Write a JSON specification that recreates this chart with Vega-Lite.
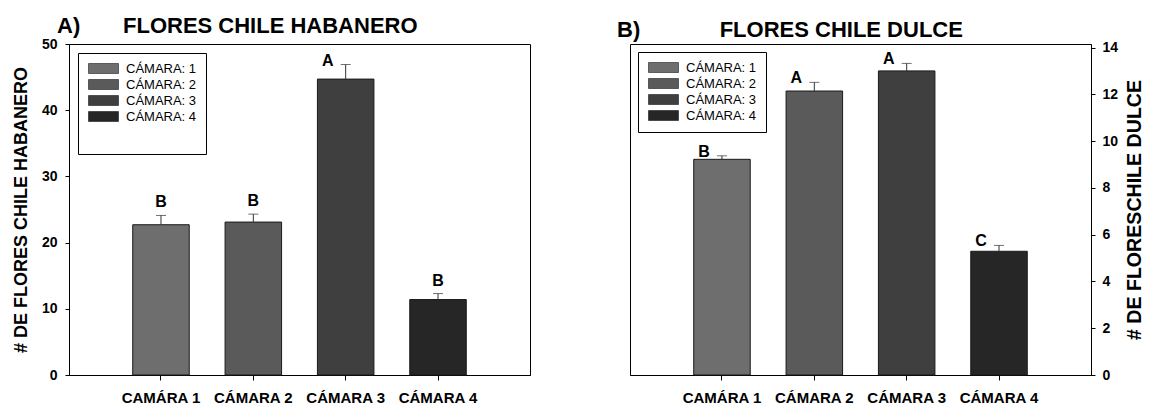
{
  "$schema": "https://vega.github.io/schema/vega-lite/v6.json",
  "background": "white",
  "padding": {"left": 11, "top": 14, "right": 0, "bottom": 0},
  "config": {
    "font": "Liberation Sans",
    "view": {"stroke": "black", "strokeWidth": 1},
    "axis": {"domainColor": "black", "tickColor": "black", "labelColor": "black", "titleColor": "black", "labelFont": "Liberation Sans", "titleFont": "Liberation Sans", "labelFontWeight": "bold", "titleFontWeight": "bold", "grid": false},
    "legend": {"orient": "top-left", "strokeColor": "black", "fillColor": "white", "padding": 9, "labelFontSize": 13, "labelFont": "Liberation Sans", "labelFontWeight": "normal", "labelColor": "black", "symbolType": "M-3,-1H3V1H-3Z", "symbolSize": 100, "symbolStrokeColor": "black", "symbolStrokeWidth": 0.5, "symbolOffset": 10, "labelOffset": 16, "rowPadding": 2},
    "title": {"font": "Liberation Sans", "fontSize": 22, "fontWeight": "bold", "anchor": "start", "color": "black", "offset": -1, "baseline": "alphabetic", "frame": "group"}
  },
  "datasets": {
    "hab": [
      {"cam": "CAMÁRA 1", "leg": "CÁMARA: 1", "value": 22.7, "hi": 24.1, "letter": "B"},
      {"cam": "CÁMARA 2", "leg": "CÁMARA: 2", "value": 23.1, "hi": 24.3, "letter": "B"},
      {"cam": "CÁMARA 3", "leg": "CÁMARA: 3", "value": 44.7, "hi": 46.9, "letter": "A"},
      {"cam": "CÁMARA 4", "leg": "CÁMARA: 4", "value": 11.4, "hi": 12.3, "letter": "B"}
    ],
    "dul": [
      {"cam": "CAMÁRA 1", "leg": "CÁMARA: 1", "value": 9.22, "hi": 9.37, "letter": "B"},
      {"cam": "CÁMARA 2", "leg": "CÁMARA: 2", "value": 12.14, "hi": 12.51, "letter": "A"},
      {"cam": "CÁMARA 3", "leg": "CÁMARA: 3", "value": 13.0, "hi": 13.32, "letter": "A"},
      {"cam": "CÁMARA 4", "leg": "CÁMARA: 4", "value": 5.29, "hi": 5.54, "letter": "C"}
    ]
  },
  "spacing": 85,
  "resolve": {"scale": {"fill": "independent", "y": "independent", "x": "independent"}, "legend": {"fill": "independent"}, "axis": {"y": "independent"}},
  "hconcat": [
    {
      "width": 461,
      "height": 331,
      "data": {"name": "hab"},
      "title": {"text": "A)\u00a0\u00a0\u00a0\u00a0\u00a0\u00a0\u00a0FLORES CHILE HABANERO", "dx": -12},
      "encoding": {
        "x": {"field": "cam", "type": "nominal", "sort": null, "scale": {"paddingInner": 0.388, "paddingOuter": 0.69}, "axis": {"title": null, "labelAngle": 0, "tickSize": 5, "labelPadding": 10, "labelFontSize": 15}}
      },
      "layer": [
        {
          "mark": {"type": "bar", "stroke": "#1a1a1a", "strokeWidth": 1},
          "encoding": {
            "y": {"field": "value", "type": "quantitative", "scale": {"domain": [0, 50], "nice": false}, "axis": {"title": "# DE FLORES CHILE HABANERO", "titleFontSize": 18, "labelFontSize": 14, "tickSize": 4, "labelPadding": 8, "titlePadding": 11, "values": [0, 10, 20, 30, 40, 50]}},
            "fill": {"field": "leg", "type": "nominal", "scale": {"domain": ["CÁMARA: 1", "CÁMARA: 2", "CÁMARA: 3", "CÁMARA: 4"], "range": ["#6e6e6e", "#5a5a5a", "#3f3f3f", "#262626"]}, "legend": {"title": " ", "titleOrient": "bottom", "titleFontSize": 13, "titlePadding": 8, "offset": 9}}
          }
        },
        {
          "mark": {"type": "rule", "color": "#333333", "strokeWidth": 1},
          "encoding": {"y": {"field": "value", "type": "quantitative"}, "y2": {"field": "hi"}}
        },
        {
          "mark": {"type": "tick", "color": "#333333", "size": 10, "thickness": 1, "orient": "horizontal"},
          "encoding": {"y": {"field": "hi", "type": "quantitative"}}
        },
        {
          "transform": [{"filter": "datum.cam != 'CÁMARA 3'"}],
          "mark": {"type": "text", "font": "Liberation Sans", "fontSize": 16, "fontWeight": "bold", "color": "black", "baseline": "alphabetic", "dy": -8},
          "encoding": {"y": {"field": "hi", "type": "quantitative"}, "text": {"field": "letter"}}
        },
        {
          "transform": [{"filter": "datum.cam == 'CÁMARA 3'"}],
          "mark": {"type": "text", "font": "Liberation Sans", "fontSize": 16, "fontWeight": "bold", "color": "black", "baseline": "alphabetic", "dx": -18, "dy": 1},
          "encoding": {"y": {"field": "hi", "type": "quantitative"}, "text": {"field": "letter"}}
        }
      ]
    },
    {
      "width": 461,
      "height": 331,
      "data": {"name": "dul"},
      "title": {"text": "B)\u00a0\u00a0\u00a0\u00a0\u00a0\u00a0\u00a0\u00a0\u00a0\u00a0\u00a0\u00a0\u00a0FLORES CHILE DULCE", "dx": -13},
      "encoding": {
        "x": {"field": "cam", "type": "nominal", "sort": null, "scale": {"paddingInner": 0.388, "paddingOuter": 0.69}, "axis": {"title": null, "labelAngle": 0, "tickSize": 5, "labelPadding": 10, "labelFontSize": 15}}
      },
      "layer": [
        {
          "mark": {"type": "bar", "stroke": "#1a1a1a", "strokeWidth": 1},
          "encoding": {
            "y": {"field": "value", "type": "quantitative", "scale": {"domain": [0, 14.15], "nice": false}, "axis": {"orient": "right", "title": "# DE FLORESCHILE DULCE", "titleAngle": 270, "titleBaseline": "top", "titleFontSize": 19.6, "labelFontSize": 14, "tickSize": 4, "labelPadding": 7, "titlePadding": 8, "values": [0, 2, 4, 6, 8, 10, 12, 14]}},
            "fill": {"field": "leg", "type": "nominal", "scale": {"domain": ["CÁMARA: 1", "CÁMARA: 2", "CÁMARA: 3", "CÁMARA: 4"], "range": ["#6e6e6e", "#5a5a5a", "#3f3f3f", "#262626"]}, "legend": {"title": null, "offset": 8}}
          }
        },
        {
          "mark": {"type": "rule", "color": "#333333", "strokeWidth": 1},
          "encoding": {"y": {"field": "value", "type": "quantitative"}, "y2": {"field": "hi"}}
        },
        {
          "mark": {"type": "tick", "color": "#333333", "size": 10, "thickness": 1, "orient": "horizontal"},
          "encoding": {"y": {"field": "hi", "type": "quantitative"}}
        },
        {
          "mark": {"type": "text", "font": "Liberation Sans", "fontSize": 16, "fontWeight": "bold", "color": "black", "baseline": "alphabetic", "dx": -18, "dy": 1},
          "encoding": {"y": {"field": "hi", "type": "quantitative"}, "text": {"field": "letter"}}
        }
      ]
    }
  ]
}
